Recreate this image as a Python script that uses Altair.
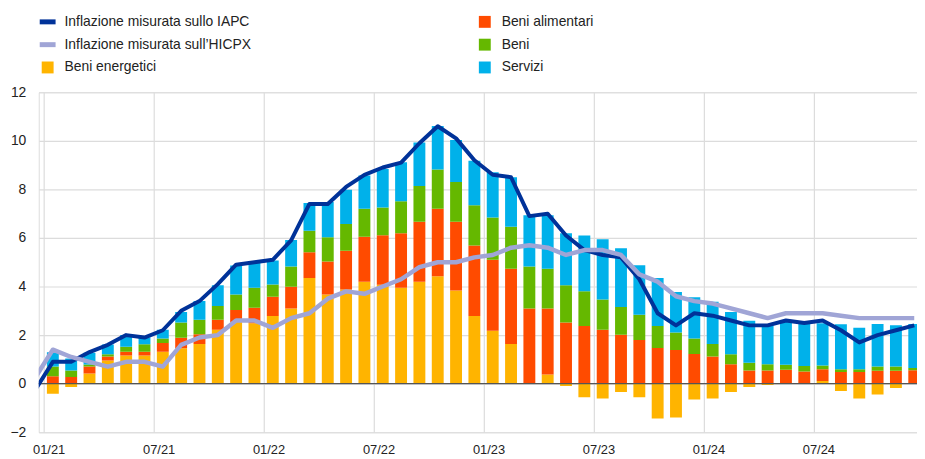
import json
import altair as alt
import pandas as pd

# ---------------- data ----------------
tick_labels = ["01/21", "07/21", "01/22", "07/22", "01/23", "07/23", "01/24", "07/24"]

series_names = [
    "Inflazione misurata sullo IAPC",
    "Inflazione misurata sull’HICPX",
    "Beni energetici",
    "Beni alimentari",
    "Beni",
    "Servizi",
]
series_colors = ["#003299", "#a0a5d6", "#ffb400", "#ff4b00", "#65b800", "#00b1ea"]

# contributions (percentage points), monthly Jan 2021 - Dec 2024
energy = [-0.41, -0.14, 0.42, 0.95, 1.16, 1.16, 1.31, 1.46, 1.63, 2.22, 2.54, 2.49,
          2.79, 3.10, 4.35, 3.67, 3.88, 4.20, 4.07, 3.95, 4.20, 4.42, 3.84, 2.79,
          2.18, 1.63, 0.00, 0.38, -0.10, -0.56, -0.61, -0.34, -0.56, -1.43, -1.39, -0.65,
          -0.61, -0.34, -0.14, -0.05, 0.03, 0.02, 0.11, -0.30, -0.61, -0.45, -0.18, 0.01]
food = [0.31, 0.27, 0.29, 0.17, 0.15, 0.15, 0.36, 0.43, 0.41, 0.41, 0.49, 0.64,
        0.79, 0.89, 1.06, 1.36, 1.59, 1.85, 2.04, 2.24, 2.47, 2.78, 2.83, 2.90,
        2.92, 3.10, 3.10, 2.72, 2.52, 2.38, 2.22, 2.01, 1.80, 1.47, 1.39, 1.22,
        1.12, 0.80, 0.54, 0.54, 0.54, 0.48, 0.48, 0.48, 0.48, 0.53, 0.53, 0.54]
goods = [0.40, 0.27, 0.08, 0.09, 0.21, 0.31, 0.19, 0.63, 0.59, 0.57, 0.64, 0.82,
         0.50, 0.84, 0.89, 1.00, 1.10, 1.15, 1.14, 1.32, 1.47, 1.62, 1.63, 1.66,
         1.74, 1.73, 1.73, 1.63, 1.53, 1.43, 1.25, 1.15, 1.04, 0.90, 0.72, 0.64,
         0.51, 0.41, 0.32, 0.26, 0.21, 0.23, 0.16, 0.11, 0.11, 0.18, 0.18, 0.10]
services = [0.58, 0.50, 0.48, 0.40, 0.48, 0.28, 0.36, 0.43, 0.77, 0.85, 1.20, 1.05,
            0.99, 1.09, 1.14, 1.45, 1.42, 1.37, 1.59, 1.61, 1.79, 1.79, 1.73, 1.83,
            1.87, 2.04, 2.11, 2.21, 2.14, 2.29, 2.48, 2.42, 2.04, 1.98, 1.67, 1.70,
            1.74, 1.74, 1.73, 1.60, 1.79, 1.74, 1.74, 1.86, 1.71, 1.75, 1.70, 1.81]

# headline lines, Dec 2020 - Dec 2024
hicp = [-0.3,
        0.9, 0.9, 1.3, 1.6, 2.0, 1.9, 2.2, 3.0, 3.4, 4.1, 4.9, 5.0,
        5.1, 5.9, 7.4, 7.4, 8.1, 8.6, 8.9, 9.1, 9.9, 10.6, 10.1, 9.2,
        8.6, 8.5, 6.9, 7.0, 6.1, 5.5, 5.3, 5.2, 4.3, 2.9, 2.4, 2.9,
        2.8, 2.6, 2.4, 2.4, 2.6, 2.5, 2.6, 2.2, 1.7, 2.0, 2.2, 2.4]
hicpx = [0.2,
         1.4, 1.1, 0.9, 0.7, 0.9, 0.9, 0.7, 1.6, 1.9, 2.0, 2.6, 2.6,
         2.3, 2.7, 2.9, 3.5, 3.8, 3.7, 4.0, 4.3, 4.8, 5.0, 5.0, 5.2,
         5.3, 5.6, 5.7, 5.6, 5.3, 5.5, 5.5, 5.3, 4.5, 4.2, 3.6, 3.4,
         3.3, 3.1, 2.9, 2.7, 2.9, 2.9, 2.9, 2.8, 2.7, 2.7, 2.7, 2.7]

# ---------------- tables ----------------
rows = []
for ci, (name, vals) in enumerate(zip(series_names[2:], [energy, food, goods, services])):
    for k, v in enumerate(vals):
        rows.append({"xc": k + 0.5, "component": name, "value": v, "ord": ci})
bar_df = pd.DataFrame(rows)

line_df = pd.DataFrame({
    "xc": [k + 0.5 for k in range(-1, len(hicp) - 1)],
    "hicp": hicp,
    "hicpx": hicpx,
})

leg_df = pd.DataFrame({
    "label": series_names,
    "kind": ["line", "line", "square", "square", "square", "square"],
    "slot": list(range(6)),
})

# ---------------- chart ----------------
W, H = 886, 343
MONTH_PX = 18.7
xscale = alt.Scale(domain=[0, W / MONTH_PX], nice=False, zero=False)
yscale = alt.Scale(domain=[-2, 12], nice=False, zero=False)
cscale = alt.Scale(domain=series_names, range=series_colors)
FONT = "Liberation Sans"

label_expr = json.dumps(tick_labels) + "[round(datum.value / 6)]"

bars = alt.Chart(bar_df).mark_bar(size=12, clip=True).encode(
    x=alt.X("xc:Q", scale=xscale, title=None,
            axis=alt.Axis(values=list(range(0, 48, 6)), labelExpr=label_expr,
                          grid=True, gridColor="#dcdcdc", gridWidth=1.2,
                          domain=False, ticks=False, labelFontSize=13,
                          labelPadding=11, labelOffset=5, labelColor="#222",
                          labelFont=FONT, labelFlush=False, labelOverlap=False)),
    y=alt.Y("value:Q", scale=yscale, stack="zero", title=None,
            axis=alt.Axis(values=list(range(-2, 13, 2)), grid=True,
                          gridColor="#dcdcdc", gridWidth=1.2, domain=False,
                          ticks=False, labelFontSize=14, labelPadding=13,
                          labelColor="#222", labelFont=FONT)),
    color=alt.Color("component:N", scale=cscale, legend=None),
    order=alt.Order("ord:Q", sort="ascending"),
)

zero = alt.Chart(pd.DataFrame({"zero": [0]})).mark_rule(
    color="#555555", strokeWidth=1.2
).encode(y=alt.Y("zero:Q", scale=yscale))

line_hicp = alt.Chart(line_df).mark_line(
    clip=True, strokeWidth=4, color=series_colors[0], strokeJoin="round"
).encode(x=alt.X("xc:Q", scale=xscale), y=alt.Y("hicp:Q", scale=yscale))

line_hicpx = alt.Chart(line_df).mark_line(
    clip=True, strokeWidth=4.5, color=series_colors[1], strokeJoin="round"
).encode(x=alt.X("xc:Q", scale=xscale), y=alt.Y("hicpx:Q", scale=yscale))

leg = alt.Chart(leg_df).transform_calculate(
    col="floor(datum.slot / 3)", row="datum.slot % 3"
).transform_calculate(
    sx="datum.col == 0 ? 9 : 450",
    tx="datum.col == 0 ? 26 : 467",
    ly="-71 + 23 * datum.row",
).transform_calculate(
    x1="datum.sx - 8", x2="datum.sx + 8"
)

leg_lines = leg.transform_filter("datum.kind == 'line'").mark_rule(strokeWidth=5).encode(
    x=alt.X("x1:Q", scale=None, axis=None),
    x2="x2:Q",
    y=alt.Y("ly:Q", scale=None, axis=None),
    color=alt.Color("label:N", scale=cscale, legend=None),
)
leg_squares = leg.transform_filter("datum.kind == 'square'").mark_square(
    size=144, opacity=1
).encode(
    x=alt.X("sx:Q", scale=None, axis=None),
    y=alt.Y("ly:Q", scale=None, axis=None),
    color=alt.Color("label:N", scale=cscale, legend=None),
)
leg_text = leg.mark_text(align="left", baseline="middle", fontSize=14,
                         color="#222", font=FONT).encode(
    x=alt.X("tx:Q", scale=None, axis=None),
    y=alt.Y("ly:Q", scale=None, axis=None),
    text="label:N",
)

chart = alt.layer(
    bars, zero, line_hicp, line_hicpx, leg_lines, leg_squares, leg_text
).properties(
    width=W, height=H,
    autosize=alt.AutoSizeParams(type="none"),
    padding={"left": 31, "top": 83, "right": 0, "bottom": 25},
).configure_view(stroke=None).configure(font=FONT)

chart.save("out.html", embed_options={"renderer": "svg", "actions": False})
